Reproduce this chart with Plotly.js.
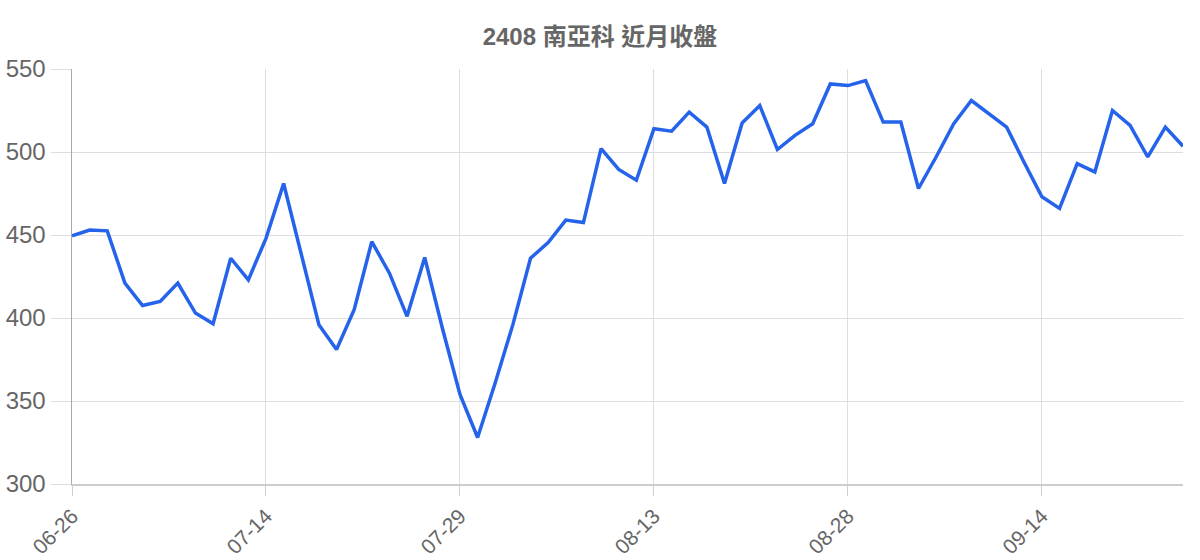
<!DOCTYPE html>
<html>
<head>
<meta charset="utf-8">
<script src="https://cdn.plot.ly/plotly-3.0.1.min.js"></script>
<style>
  html, body { margin: 0; padding: 0; background: #fff; }
  #chart { width: 1200px; height: 560px; }
</style>
</head>
<body>
<div id="chart"></div>
<script>
// trading days shown on the x axis (only every 11th is labelled)
const dates = [
  '06-26', '06-27', '06-30', '07-01', '07-02', '07-03', '07-04', '07-07', '07-08', '07-09', '07-10',
  '07-14', '07-15', '07-16', '07-17', '07-18', '07-21', '07-22', '07-23', '07-24', '07-25', '07-28',
  '07-29', '07-30', '07-31', '08-01', '08-04', '08-05', '08-06', '08-07', '08-08', '08-11', '08-12',
  '08-13', '08-14', '08-15', '08-18', '08-19', '08-20', '08-21', '08-22', '08-25', '08-26', '08-27',
  '08-28', '08-29', '09-01', '09-02', '09-03', '09-04', '09-05', '09-08', '09-09', '09-10', '09-11',
  '09-14', '09-15', '09-16', '09-17', '09-18', '09-19', '09-22', '09-23', '09-24'
];

// closing prices
const closes = [
  449.5, 453, 452.5, 421, 407.5, 410, 421, 403, 396.5, 436, 423,
  448, 481, 438, 396, 381, 405, 446, 427, 401, 436.5, 394,
  354, 328, 361, 396, 436, 445.5, 459, 457.5, 502, 489.5, 483,
  514, 512.5, 524, 515, 481, 517.5, 528, 501.5, 510, 517,
  541, 540, 543, 518, 518, 478, 497, 517, 531, 523, 515,
  493.5, 473, 466, 493, 488, 525, 516, 497, 515, 503.5
];

const tickLabels = ['06-26', '07-14', '07-29', '08-13', '08-28', '09-14'];
const yTicks = [300, 350, 400, 450, 500, 550];

const textGray = '#666666';
const gridGray = '#dedede';

const trace = {
  x: dates,
  y: closes,
  type: 'scatter',
  mode: 'lines',
  line: { color: '#2563eb', width: 3.5 },
  hoverinfo: 'x+y'
};

const layout = {
  width: 1200,
  height: 560,
  margin: { l: 72, r: 17, t: 69, b: 76 },
  paper_bgcolor: '#ffffff',
  plot_bgcolor: '#ffffff',
  showlegend: false,
  font: { family: '"Liberation Sans", Arial, "Noto Sans CJK TC", sans-serif', color: textGray },
  title: {
    text: '<b>2408 南亞科 近月收盤</b>',
    x: 0.5,
    xanchor: 'center',
    y: 0.935,
    yanchor: 'middle',
    font: { size: 24, color: textGray, family: '"Liberation Sans", "Noto Sans CJK TC", sans-serif' }
  },
  xaxis: {
    type: 'category',
    range: [0, dates.length - 1],
    tickmode: 'array',
    tickvals: tickLabels,
    ticktext: tickLabels,
    tickangle: -45,
    ticks: 'outside',
    ticklen: 10,
    tickcolor: '#cfcfcf',
    tickfont: { size: 21, color: textGray },
    showgrid: true,
    gridcolor: gridGray,
    gridwidth: 1,
    showline: true,
    linecolor: '#cccccc',
    linewidth: 1.5,
    zeroline: false,
    fixedrange: true
  },
  yaxis: {
    range: [300, 550],
    tickmode: 'array',
    tickvals: yTicks,
    ticks: 'outside',
    ticklen: 20,
    tickcolor: gridGray,
    tickfont: { size: 24, color: textGray },
    showgrid: true,
    gridcolor: gridGray,
    gridwidth: 1,
    showline: true,
    linecolor: '#aaaaaa',
    linewidth: 1.5,
    zeroline: false,
    fixedrange: true
  }
};

Plotly.newPlot('chart', [trace], layout, { displayModeBar: false, staticPlot: true });
</script>
</body>
</html>
